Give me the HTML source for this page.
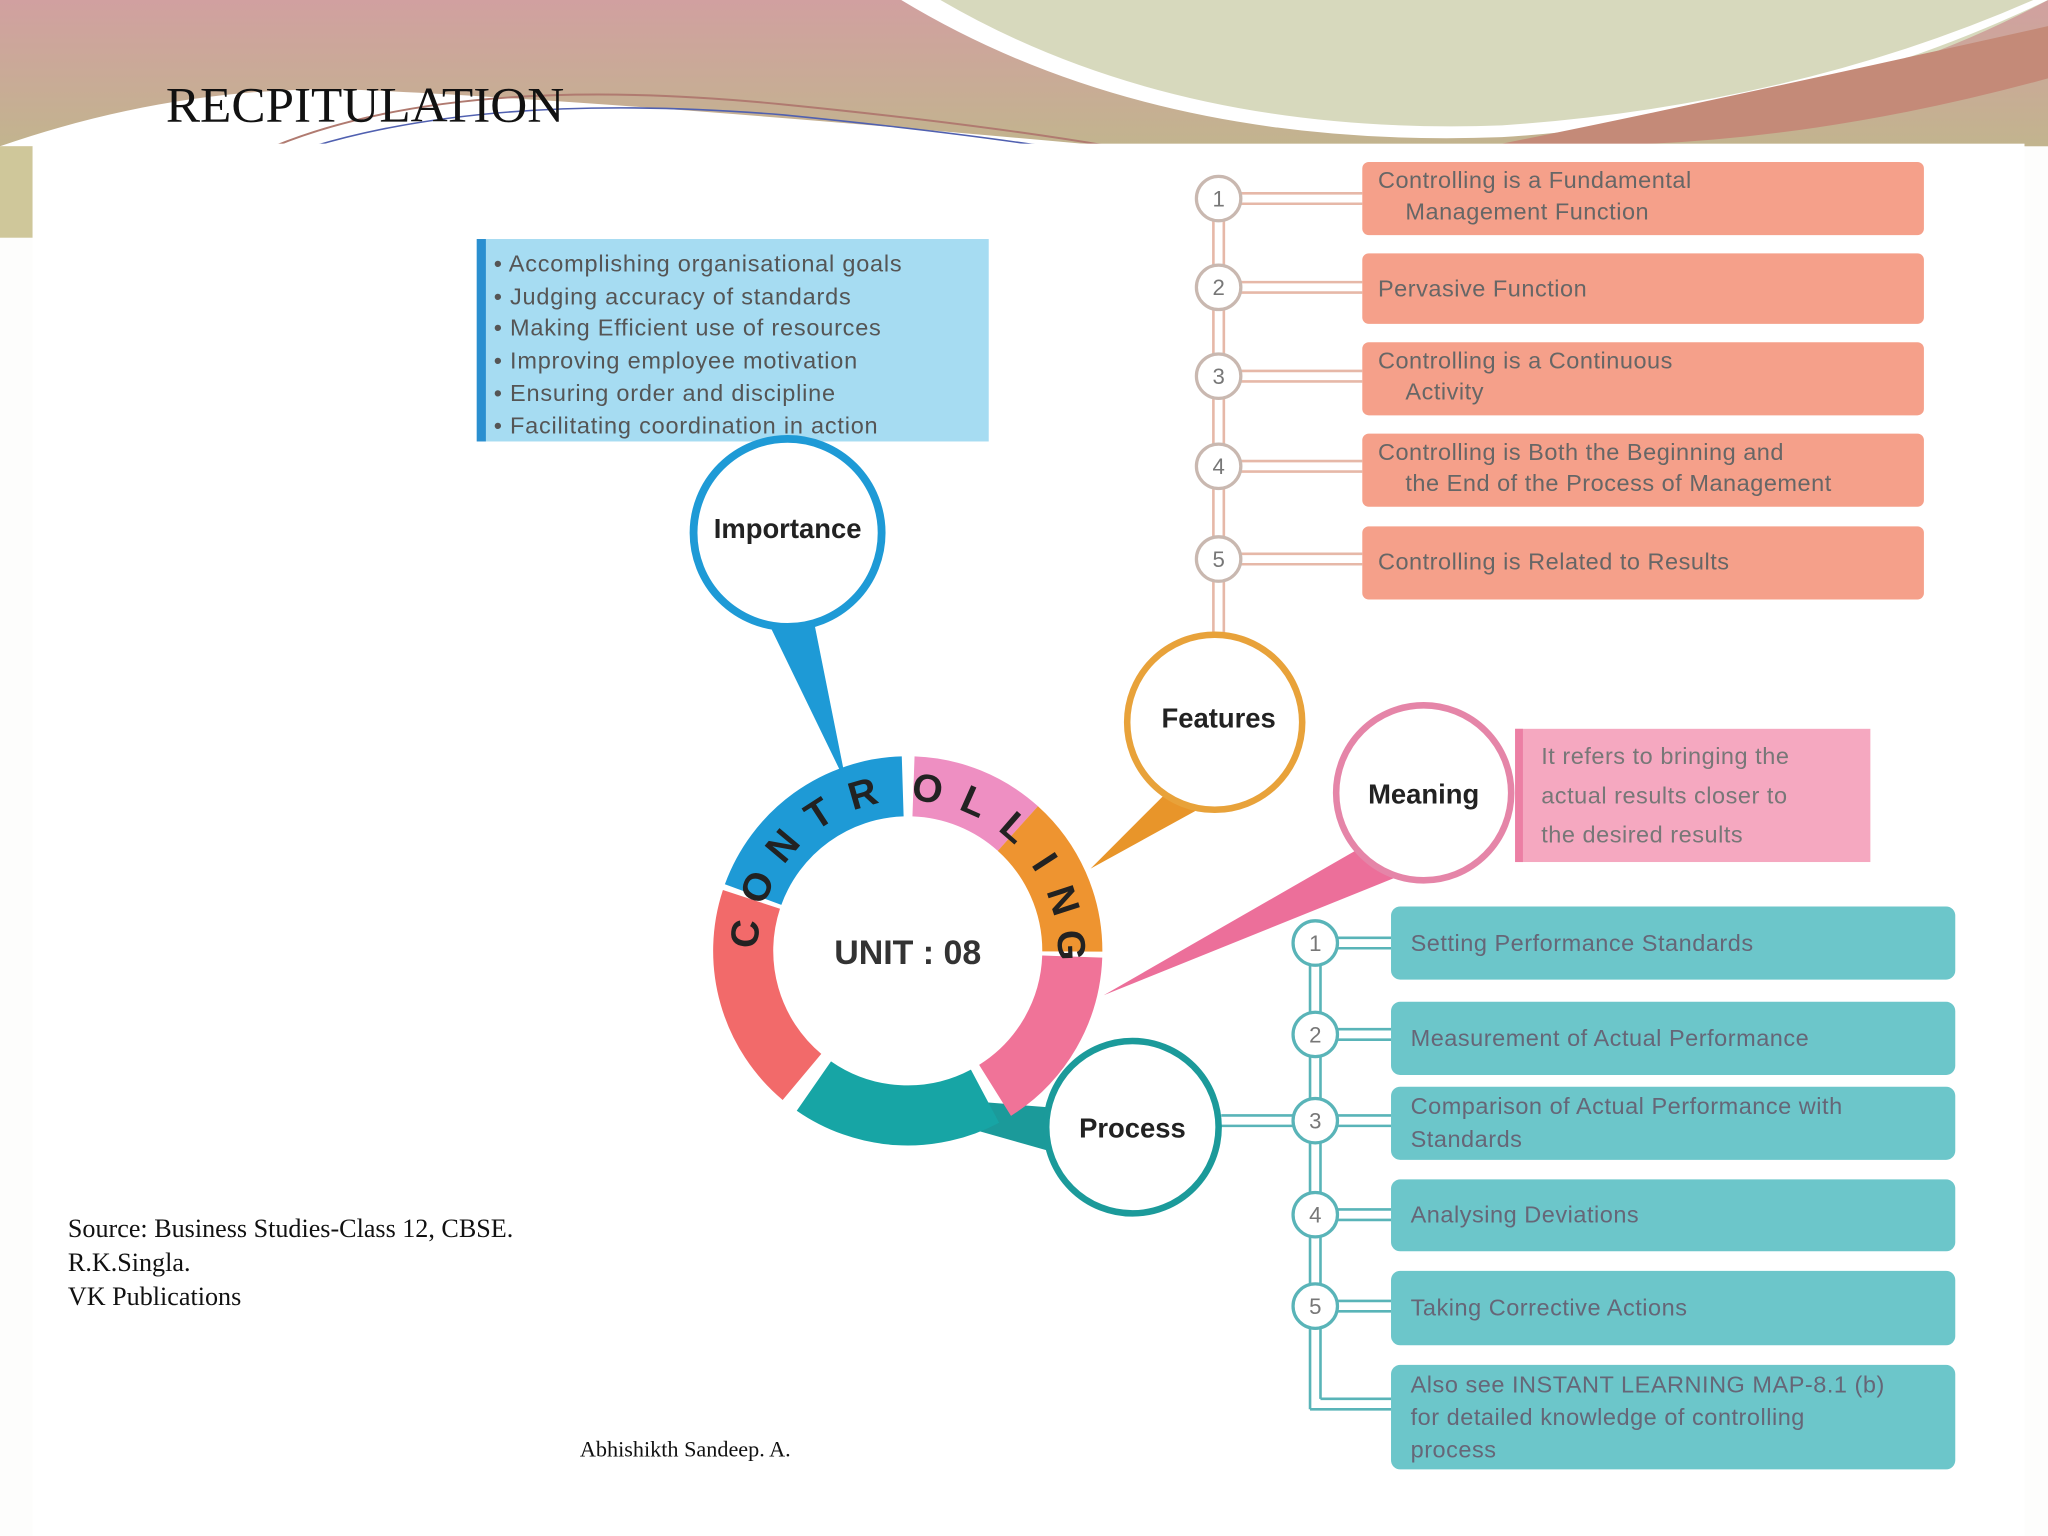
<!DOCTYPE html>
<html><head><meta charset="utf-8"><style>
html,body{margin:0;padding:0;background:#fff;}
svg{display:block}
text{font-family:"Liberation Sans",sans-serif}
text.sf{font-family:"Liberation Serif",serif}
</style></head><body>
<svg width="2048" height="1536" viewBox="0 0 1568 1176" xmlns="http://www.w3.org/2000/svg">
<defs>
<linearGradient id="hv" x1="0" y1="0" x2="0" y2="1">
<stop offset="0" stop-color="#d1a0a0"/><stop offset="1" stop-color="#c2b48e"/>
</linearGradient>
</defs>
<rect width="1568" height="1176" fill="#fdfdfc"/>
<rect x="0" y="0" width="1568" height="112" fill="url(#hv)"/>
<path d="M700 0 Q900 120 1180 100 Q1400 90 1568 0 Z" fill="#d7d9bd"/>
<path d="M690 0 Q880 115 1150 105 Q1380 90 1568 0 L1568 -5 Q1380 80 1150 96 Q900 105 720 0Z" fill="#ffffff"/>
<path d="M1150 110 Q1300 80 1568 20 L1568 60 Q1350 120 1150 110Z" fill="#c48a78"/>
<path d="M0 112 Q150 60 300 70 Q500 80 850 112 Z" fill="#ffffff"/>
<path d="M210 112 Q350 55 600 80 Q750 95 850 112" fill="none" stroke="#b07a70" stroke-width="1.5"/>
<path d="M240 112 Q380 70 600 88 Q720 100 800 112" fill="none" stroke="#5060b0" stroke-width="1.2"/>
<rect x="0" y="112" width="25" height="70" fill="#cfc79a"/>
<rect x="25" y="110" width="1525" height="1066" fill="#ffffff"/>
<text class="sf" x="127" y="93" font-size="38" fill="#111" textLength="305" lengthAdjust="spacingAndGlyphs">RECPITULATION</text>

<!-- Importance box -->
<rect x="365" y="183" width="392" height="155" fill="#a6dcf2"/>
<rect x="365" y="183" width="7" height="155" fill="#2a8fd0"/>
<g font-size="18" fill="#555" letter-spacing="0.6">
<text x="378" y="208">•  Accomplishing organisational goals</text>
<text x="378" y="233">•  Judging accuracy of standards</text>
<text x="378" y="257">•  Making Efficient use of resources</text>
<text x="378" y="282">•  Improving employee motivation</text>
<text x="378" y="307">•  Ensuring order and discipline</text>
<text x="378" y="332">•  Facilitating coordination in action</text>
</g>

<!-- pointers -->
<polygon points="585,470 622,470 648,600" fill="#1e9ad6"/>
<polygon points="895,605 935,610 835,665" fill="#e8952a"/>
<polygon points="1040,650 1078,668 845,762" fill="#ec6f9a"/>
<polygon points="640,835 806,848 806,882" fill="#1b9a9a"/>

<!-- ring -->
<g fill="none" stroke-width="46">
<circle cx="695" cy="728" r="126" stroke="#f07398" stroke-dasharray="123 1000" transform="rotate(2 695 728)"/>
<circle cx="695" cy="728" r="126" stroke="#17a5a5" stroke-dasharray="138 1000" transform="rotate(62 695 728)"/>
<circle cx="695" cy="728" r="126" stroke="#f26a6a" stroke-dasharray="150 1000" transform="rotate(130 695 728)"/>
<circle cx="695" cy="728" r="126" stroke="#1e9ad6" stroke-dasharray="150 1000" transform="rotate(200 695 728)"/>
<circle cx="695" cy="728" r="126" stroke="#ee8fc2" stroke-dasharray="88 1000" transform="rotate(272 695 728)"/>
<circle cx="695" cy="728" r="126" stroke="#ee9430" stroke-dasharray="106 1000" transform="rotate(312 695 728)"/>
</g>
<g font-size="30" font-weight="bold" fill="#222" text-anchor="middle">
<text x="695" y="613" transform="rotate(276 695 728)">C</text>
<text x="695" y="613" transform="rotate(293 695 728)">O</text>
<text x="695" y="613" transform="rotate(310 695 728)">N</text>
<text x="695" y="613" transform="rotate(327 695 728)">T</text>
<text x="695" y="613" transform="rotate(344 695 728)">R</text>
<text x="695" y="613" transform="rotate(7 695 728)">O</text>
<text x="695" y="613" transform="rotate(24 695 728)">L</text>
<text x="695" y="613" transform="rotate(41 695 728)">L</text>
<text x="695" y="613" transform="rotate(57 695 728)">I</text>
<text x="695" y="613" transform="rotate(72 695 728)">N</text>
<text x="695" y="613" transform="rotate(88 695 728)">G</text>
</g>
<text x="695" y="738" font-size="26" font-weight="bold" fill="#333" text-anchor="middle">UNIT : 08</text>

<circle cx="603" cy="408" r="72" fill="#fff" stroke="#1e9ad6" stroke-width="6"/>
<text x="603" y="412" font-size="21" font-weight="bold" fill="#222" text-anchor="middle">Importance</text>

<!-- features connectors -->
<g stroke="#e6b8a8" stroke-width="2" fill="none">
<line x1="929" y1="135" x2="929" y2="490"/><line x1="937" y1="135" x2="937" y2="490"/>
<line x1="945" y1="148" x2="1043" y2="148"/><line x1="945" y1="156" x2="1043" y2="156"/>
<line x1="945" y1="216" x2="1043" y2="216"/><line x1="945" y1="224" x2="1043" y2="224"/>
<line x1="945" y1="284" x2="1043" y2="284"/><line x1="945" y1="292" x2="1043" y2="292"/>
<line x1="945" y1="353" x2="1043" y2="353"/><line x1="945" y1="361" x2="1043" y2="361"/>
<line x1="945" y1="424" x2="1043" y2="424"/><line x1="945" y1="432" x2="1043" y2="432"/>
</g>
<g fill="#fff" stroke="#c9b8b0" stroke-width="2.5">
<circle cx="933" cy="152" r="17"/><circle cx="933" cy="220" r="17"/><circle cx="933" cy="288" r="17"/><circle cx="933" cy="357" r="17"/><circle cx="933" cy="428" r="17"/>
</g>
<g font-size="17" fill="#777" text-anchor="middle">
<text x="933" y="158">1</text><text x="933" y="226">2</text><text x="933" y="294">3</text><text x="933" y="363">4</text><text x="933" y="434">5</text>
</g>
<g fill="#f5a08a">
<rect x="1043" y="124" width="430" height="56" rx="5"/>
<rect x="1043" y="194" width="430" height="54" rx="5"/>
<rect x="1043" y="262" width="430" height="56" rx="5"/>
<rect x="1043" y="332" width="430" height="56" rx="5"/>
<rect x="1043" y="403" width="430" height="56" rx="5"/>
</g>
<g font-size="18" fill="#666" letter-spacing="0.4">
<text x="1055" y="144">Controlling is a Fundamental</text>
<text x="1076" y="168">Management Function</text>
<text x="1055" y="227">Pervasive Function</text>
<text x="1055" y="282">Controlling is a Continuous</text>
<text x="1076" y="306">Activity</text>
<text x="1055" y="352">Controlling is Both the Beginning and</text>
<text x="1076" y="376">the End of the Process of Management</text>
<text x="1055" y="436">Controlling is Related to Results</text>
</g>
<circle cx="930" cy="553" r="67" fill="#fff" stroke="#e8a23a" stroke-width="5"/>
<text x="933" y="557" font-size="21" font-weight="bold" fill="#222" text-anchor="middle">Features</text>

<!-- meaning -->
<rect x="1160" y="558" width="272" height="102" fill="#f5a8c0"/>
<rect x="1160" y="558" width="6" height="102" fill="#ec7fa4"/>
<g font-size="18" fill="#777" letter-spacing="0.4">
<text x="1180" y="585">It refers to bringing the</text>
<text x="1180" y="615">actual results closer to</text>
<text x="1180" y="645">the desired results</text>
</g>
<circle cx="1090" cy="607" r="67" fill="#fff" stroke="#e585a8" stroke-width="5"/>
<text x="1090" y="615" font-size="21" font-weight="bold" fill="#222" text-anchor="middle">Meaning</text>

<!-- process connectors -->
<g stroke="#59b4b8" stroke-width="2" fill="none">
<line x1="1003" y1="705" x2="1003" y2="1079"/><line x1="1011" y1="705" x2="1011" y2="1071"/>
<line x1="1003" y1="1079" x2="1065" y2="1079"/><line x1="1011" y1="1071" x2="1065" y2="1071"/>
<line x1="1020" y1="718" x2="1065" y2="718"/><line x1="1020" y1="726" x2="1065" y2="726"/>
<line x1="1020" y1="788" x2="1065" y2="788"/><line x1="1020" y1="796" x2="1065" y2="796"/>
<line x1="1020" y1="854" x2="1065" y2="854"/><line x1="1020" y1="862" x2="1065" y2="862"/>
<line x1="1020" y1="926" x2="1065" y2="926"/><line x1="1020" y1="934" x2="1065" y2="934"/>
<line x1="1020" y1="996" x2="1065" y2="996"/><line x1="1020" y1="1004" x2="1065" y2="1004"/>
<line x1="935" y1="854" x2="990" y2="854"/><line x1="935" y1="862" x2="990" y2="862"/>
</g>
<g fill="#fff" stroke="#59b4b8" stroke-width="2.5">
<circle cx="1007" cy="722" r="17"/><circle cx="1007" cy="792" r="17"/><circle cx="1007" cy="858" r="17"/><circle cx="1007" cy="930" r="17"/><circle cx="1007" cy="1000" r="17"/>
</g>
<g font-size="17" fill="#777" text-anchor="middle">
<text x="1007" y="728">1</text><text x="1007" y="798">2</text><text x="1007" y="864">3</text><text x="1007" y="936">4</text><text x="1007" y="1006">5</text>
</g>
<g fill="#6cc6ca">
<rect x="1065" y="694" width="432" height="56" rx="7"/>
<rect x="1065" y="767" width="432" height="56" rx="7"/>
<rect x="1065" y="832" width="432" height="56" rx="7"/>
<rect x="1065" y="903" width="432" height="55" rx="7"/>
<rect x="1065" y="973" width="432" height="57" rx="7"/>
<rect x="1065" y="1045" width="432" height="80" rx="7"/>
</g>
<g font-size="18" fill="#667" letter-spacing="0.4">
<text x="1080" y="728">Setting Performance Standards</text>
<text x="1080" y="801">Measurement of Actual Performance</text>
<text x="1080" y="853">Comparison of Actual Performance with</text>
<text x="1080" y="878">Standards</text>
<text x="1080" y="936">Analysing Deviations</text>
<text x="1080" y="1007">Taking Corrective Actions</text>
<text x="1080" y="1066">Also see INSTANT LEARNING MAP-8.1 (b)</text>
<text x="1080" y="1091">for detailed knowledge of controlling</text>
<text x="1080" y="1116">process</text>
</g>
<circle cx="867" cy="863" r="66" fill="#fff" stroke="#1b9a9a" stroke-width="5"/>
<text x="867" y="871" font-size="21" font-weight="bold" fill="#222" text-anchor="middle">Process</text>

<g font-size="20" fill="#111">
<text class="sf" x="52" y="947">Source: Business Studies-Class 12, CBSE.</text>
<text class="sf" x="52" y="973">R.K.Singla.</text>
<text class="sf" x="52" y="999">VK Publications</text>
</g>
<text class="sf" x="444" y="1115" font-size="17" fill="#111">Abhishikth Sandeep. A.</text>
</svg>
</body></html>
